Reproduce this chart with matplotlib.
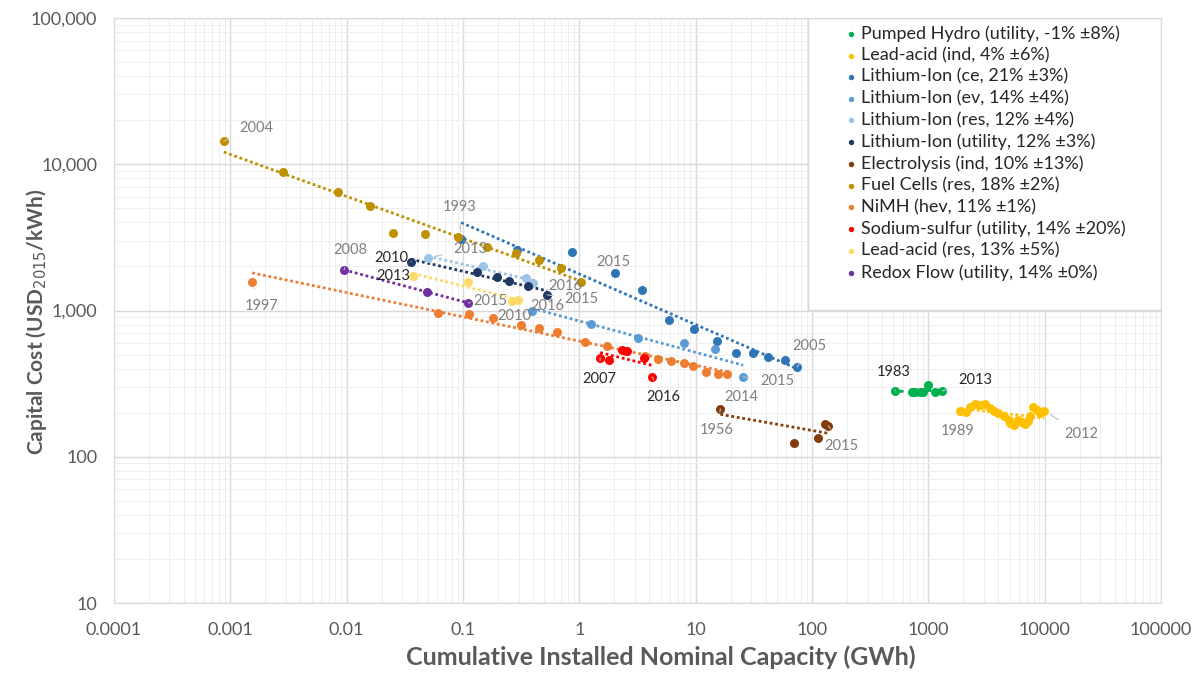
import numpy as np
import matplotlib.pyplot as plt
from matplotlib.ticker import FuncFormatter, LogLocator, NullFormatter
from matplotlib.patches import Rectangle

plt.rcParams['font.family'] = ['Lato', 'DejaVu Sans']

# cumulative installed capacity (GWh) / capital cost (USD2015/kWh)
ph_x = [519, 727, 771, 851, 904, 998, 1146, 1318]
ph_y = [282, 278, 278, 278, 278, 310, 278, 282]

la_ind_x = [1880, 2120, 2290, 2530, 2790, 3080, 3400, 3690, 4000, 4420, 4880, 5060,
            5450, 5930, 6420, 6800, 7200, 7520, 7880, 8500, 9160, 9900]
la_ind_y = [206, 203, 219, 230, 226, 230, 215, 206, 200, 190, 179, 171,
            165, 179, 173, 168, 176, 190, 219, 209, 200, 206]

li_ce_x = [0.0964, 0.292, 0.867, 2.03, 3.47, 5.92, 9.70, 15.3, 22.3, 31.2, 42.0, 58.9, 74.6]
li_ce_y = [3085, 2594, 2512, 1807, 1383, 863, 748, 620, 513, 513, 482, 459, 412]

li_ev_x = [0.393, 1.26, 3.20, 7.96, 14.7, 25.6]
li_ev_y = [994, 809, 650, 601, 547, 351]

li_res_x = [0.0501, 0.149, 0.349, 0.401]
li_res_y = [2291, 2018, 1671, 1545]

li_util_x = [0.0358, 0.132, 0.196, 0.249, 0.363, 0.528]
li_util_y = [2148, 1836, 1698, 1592, 1472, 1279]

elec_x = [16.3, 70.3, 113, 130, 138]
elec_y = [212, 124, 135, 168, 163]

fc_x = [0.00088, 0.00284, 0.0084, 0.0159, 0.0251, 0.0472, 0.0908, 0.161, 0.286, 0.451, 0.699, 1.04]
fc_y = [14400, 8850, 6470, 5190, 3390, 3340, 3180, 2720, 2480, 2220, 1955, 1570]

nimh_x = [0.00154, 0.0611, 0.113, 0.182, 0.316, 0.451, 0.644, 1.12, 1.73, 2.48,
          3.68, 4.76, 6.15, 7.96, 9.51, 12.3, 15.6, 18.7]
nimh_y = [1570, 964, 949, 889, 797, 761, 714, 610, 573, 530,
          490, 467, 453, 439, 418, 380, 369, 369]

nas_x = [1.51, 1.80, 2.33, 2.58, 3.61, 4.23]
nas_y = [474, 459, 538, 530, 474, 351]

la_res_x = [0.0373, 0.111, 0.264, 0.298]
la_res_y = [1723, 1570, 1164, 1181]

redox_x = [0.0095, 0.0491, 0.111]
redox_y = [1896, 1339, 1127]

x_ticks = [0.0001, 0.001, 0.01, 0.1, 1, 10, 100, 1000, 10000, 100000]
x_tick_labels = ['0.0001', '0.001', '0.01', '0.1', '1', '10', '100', '1000', '10000', '100000']
y_ticks = [10, 100, 1000, 10000, 100000]

series = [
    ('Pumped Hydro (utility, -1% ±8%)', ph_x, ph_y, '#00B050'),
    ('Lead-acid (ind, 4% ±6%)', la_ind_x, la_ind_y, '#FFC000'),
    ('Lithium-Ion (ce, 21% ±3%)', li_ce_x, li_ce_y, '#2E75B6'),
    ('Lithium-Ion (ev, 14% ±4%)', li_ev_x, li_ev_y, '#5B9BD5'),
    ('Lithium-Ion (res, 12% ±4%)', li_res_x, li_res_y, '#9DC3E6'),
    ('Lithium-Ion (utility, 12% ±3%)', li_util_x, li_util_y, '#1F3864'),
    ('Electrolysis (ind, 10% ±13%)', elec_x, elec_y, '#843C0C'),
    ('Fuel Cells (res, 18% ±2%)', fc_x, fc_y, '#BF9000'),
    ('NiMH (hev, 11% ±1%)', nimh_x, nimh_y, '#ED7D31'),
    ('Sodium-sulfur (utility, 14% ±20%)', nas_x, nas_y, '#FF0000'),
    ('Lead-acid (res, 13% ±5%)', la_res_x, la_res_y, '#FFD966'),
    ('Redox Flow (utility, 14% ±0%)', redox_x, redox_y, '#7030A0'),
]

# year labels: (series index, point index, text, dx px, dy px, dark)
year_labels = [
    (7, 0, '2004', 32, 13, False), (7, -1, '2015', 32, 20, False),
    (2, 0, '1993', -2, 32, False), (2, -1, '2005', 12, 21, False),
    (4, 0, '2013', 42, 9, False), (4, -1, '2016', 32, -3, False),
    (5, 0, '2010', -20, 4, True), (5, -1, '2015', 34, -4, False),
    (10, 0, '2013', -20, 0, True), (10, -1, '2016', 29, -6, False),
    (11, 0, '2008', 6, 20, False), (11, -1, '2015', 22, 2, False),
    (3, 0, '2010', -18, -5, False), (3, -1, '2015', 34, -4, False),
    (8, 0, '1997', 10, -24, False), (8, -1, '2014', 14, -23, False),
    (9, 0, '2007', -1, -21, True), (9, -1, '2016', 11, -20, True),
    (6, 0, '1956', -4, -21, False), (6, -1, '2015', 13, -20, False),
    (0, 0, '1983', -2, 19, True), (0, -1, '2013', 33, 11, True),
    (1, 0, '1989', -3, -20, False), (1, -1, '2012', 37, -23, False),
]

fig = plt.figure(figsize=(12.02, 6.77), dpi=100)
ax = fig.add_axes([0.0948, 0.1093, 0.8712, 0.8641])

for name, xs, ys, c in series:
    xs = np.array(xs, dtype=float)
    ys = np.array(ys, dtype=float)
    # power-law trend line (linear fit in log-log space)
    k, b = np.polyfit(np.log10(xs), np.log10(ys), 1)
    xt = np.logspace(np.log10(xs.min()), np.log10(xs.max()), 50)
    ls = (0, (3, 2)) if name.startswith('Pumped') else (0, (1, 1))
    ax.plot(xt, 10 ** (k * np.log10(xt) + b), color=c, lw=2, ls=ls, zorder=2)
    ax.scatter(xs, ys, s=42, color=c, label=name, zorder=3, linewidths=0)

for si, pi, txt, dx, dy, dark in year_labels:
    xs, ys = series[si][1], series[si][2]
    ax.annotate(txt, (xs[pi], ys[pi]), xytext=(dx, dy), textcoords='offset pixels',
                ha='center', va='center', fontsize=10.5,
                color='#262626' if dark else '#7f7f7f',
                arrowprops=dict(arrowstyle='-', color='#bfbfbf', lw=0.8,
                                shrinkA=6, shrinkB=5),
                zorder=4)

ax.set_xscale('log')
ax.set_yscale('log')
ax.set_xlim(0.0001, 100000)
ax.set_ylim(10, 100000)

ax.set_xticks(x_ticks)
ax.set_xticklabels(x_tick_labels)
ax.set_yticks(y_ticks)
ax.xaxis.set_minor_locator(LogLocator(base=10, subs=np.arange(2, 10), numticks=20))
ax.yaxis.set_minor_locator(LogLocator(base=10, subs=np.arange(2, 10), numticks=20))
ax.xaxis.set_minor_formatter(NullFormatter())
ax.yaxis.set_minor_formatter(NullFormatter())
ax.yaxis.set_major_formatter(FuncFormatter(lambda v, p: '{:,.0f}'.format(v)))

ax.grid(True, which='major', color='#d9d9d9', lw=1)
ax.grid(True, which='minor', color='#eeeeee', lw=0.7)
ax.set_axisbelow(True)
ax.tick_params(which='both', length=0, labelsize=13, labelcolor='#595959')
ax.tick_params(axis='x', pad=14)
ax.tick_params(axis='y', pad=12)
for sp in ax.spines.values():
    sp.set_color('#d9d9d9')

ax.set_xlabel('Cumulative Installed Nominal Capacity (GWh)', fontsize=18,
              fontweight='bold', color='#595959')
ax.xaxis.set_label_coords(0.522, -0.072)
ax.set_ylabel('Capital Cost (USD$_{2015}$/kWh)', fontsize=15,
              fontweight='bold', color='#595959')
ax.yaxis.set_label_coords(-0.062, 0.48)

# legend box
ax.add_patch(Rectangle((0.663, 0.501), 0.337, 0.499, transform=ax.transAxes,
                       facecolor='white', edgecolor='#d9d9d9', lw=1, zorder=5))
ax.legend(loc='upper left', bbox_to_anchor=(0.688, 1.0), frameon=False,
          fontsize=13, markerscale=0.6, handletextpad=0.1, handlelength=1.0,
          labelspacing=0.3, borderaxespad=0, labelcolor='#262626').set_zorder(6)

fig.savefig('out.png', dpi=100)
